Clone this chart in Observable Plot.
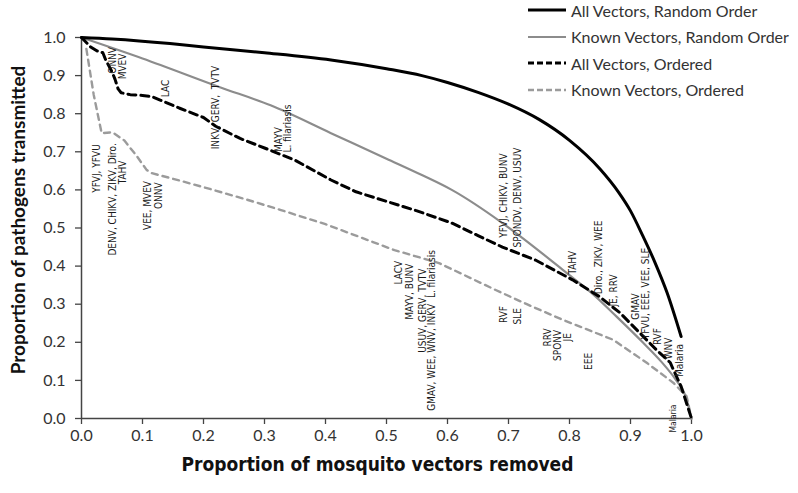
<!DOCTYPE html>
<html>
<head>
<meta charset="utf-8">
<script src="https://cdn.jsdelivr.net/npm/d3@7"></script>
<script src="https://cdn.jsdelivr.net/npm/@observablehq/plot@0.6"></script>
<style>
  html, body { margin: 0; padding: 0; background: #fff; }
  #wrap { position: relative; width: 798px; height: 493px; overflow: hidden; }
  #legend { position: absolute; left: 526px; top: -3px; font-family: Lato, "Open Sans", sans-serif; font-size: 16px; color: #333; }
  #legend .row { height: 26.5px; display: flex; align-items: center; white-space: nowrap; }
  #legend svg { margin-right: 3px; }
</style>
</head>
<body>
<div id="wrap"><div id="chart"></div><div id="legend"></div></div>
<script>
// ---------- data ----------
const xTicks = [0, 0.1, 0.2, 0.3, 0.4, 0.5, 0.6, 0.7, 0.8, 0.9, 1.0];
const yTicks = [0, 0.1, 0.2, 0.3, 0.4, 0.5, 0.6, 0.7, 0.8, 0.9, 1.0];

const seriesNames = ["All Vectors, Random Order", "Known Vectors, Random Order", "All Vectors, Ordered", "Known Vectors, Ordered"];

const allRandomX = [0, 0.05, 0.145, 0.2, 0.3, 0.409, 0.5, 0.558, 0.6, 0.65, 0.7, 0.75, 0.8, 0.85, 0.88, 0.9, 0.92, 0.94, 0.96, 0.983];
const allRandomY = [1, 0.996, 0.984, 0.975, 0.96, 0.941, 0.918, 0.9, 0.882, 0.856, 0.825, 0.785, 0.73, 0.655, 0.595, 0.545, 0.48, 0.41, 0.33, 0.215];

const knownRandomX = [0, 0.1, 0.228, 0.31, 0.409, 0.5, 0.558, 0.607, 0.69, 0.75, 0.789, 0.843, 0.871, 0.92, 0.95, 0.975, 0.99, 1.0];
const knownRandomY = [1, 0.945, 0.869, 0.822, 0.749, 0.682, 0.639, 0.6, 0.513, 0.44, 0.39, 0.32, 0.277, 0.2, 0.15, 0.1, 0.06, 0];

const allOrderedX = [0, 0.015, 0.025, 0.035, 0.04, 0.05, 0.055, 0.06, 0.065, 0.08, 0.1, 0.115, 0.13, 0.16, 0.2, 0.22, 0.26, 0.3, 0.35, 0.409, 0.45, 0.5, 0.55, 0.607, 0.65, 0.69, 0.744, 0.805, 0.849, 0.883, 0.899, 0.942, 0.965, 0.983, 1.0];
const allOrderedY = [1, 0.975, 0.965, 0.96, 0.94, 0.91, 0.89, 0.865, 0.855, 0.85, 0.848, 0.845, 0.835, 0.815, 0.79, 0.767, 0.735, 0.71, 0.678, 0.626, 0.595, 0.57, 0.545, 0.513, 0.48, 0.45, 0.416, 0.364, 0.32, 0.277, 0.251, 0.181, 0.147, 0.084, 0];

const knownOrderedX = [0.008, 0.02, 0.033, 0.051, 0.07, 0.09, 0.107, 0.115, 0.16, 0.216, 0.27, 0.327, 0.4, 0.45, 0.513, 0.586, 0.678, 0.73, 0.789, 0.871, 0.926, 0.97, 0.992, 1.0];
const knownOrderedY = [0.97, 0.85, 0.749, 0.751, 0.73, 0.69, 0.652, 0.644, 0.625, 0.6, 0.575, 0.547, 0.51, 0.48, 0.442, 0.408, 0.338, 0.3, 0.259, 0.207, 0.147, 0.094, 0.058, 0];

// pathogen annotations (one entry per text line; x, y = centre of the line in data units)
const labelText = ["ONNV", "MVEV", "LAC", "INKV, GERV,  TVTV", "MAYV", "L. filariasis",
  "YFVJ, YFVU", "DENV, CHIKV, ZIKV, Diro.", "TAHV", "VEE, MVEV", "ONNV",
  "LACV", "MAYV, BUNV", "USUV, GERV, TVTV", "GMAV, WEE, WNV, INKV  L. filariasis",
  "RVF", "SLE", "RRV", "SPONV", "JE", "EEE",
  "YFVJ, CHIKV, BUNV", "SPONDV, DENV, USUV", "TAHV", "Diro., ZIKV, WEE", "JE, RRV",
  "GMAV", "YFVU, EEE, VEE, SLE", "RVF", "WNV", "Malaria", "Malaria"];
const labelX = [0.051, 0.067, 0.138, 0.220, 0.323, 0.339,
  0.025, 0.051, 0.067, 0.108, 0.126,
  0.520, 0.539, 0.559, 0.575,
  0.692, 0.716, 0.764, 0.780, 0.798, 0.831,
  0.692, 0.716, 0.805, 0.848, 0.872,
  0.908, 0.925, 0.944, 0.962, 0.980, 0.970];
const labelY = [0.940, 0.924, 0.866, 0.816, 0.732, 0.761,
  0.656, 0.575, 0.646, 0.559, 0.585,
  0.383, 0.333, 0.283, 0.231,
  0.273, 0.268, 0.213, 0.192, 0.213, 0.150,
  0.585, 0.580, 0.409, 0.423, 0.336,
  0.294, 0.328, 0.215, 0.184, 0.152, 0.0];
const labelSmall = labelText.map((d, i) => i === labelText.length - 1);

const xTitle = "Proportion of mosquito vectors removed";
const yTitle = "Proportion of pathogens transmitted";

// ---------- build ----------
const toRows = (xs, ys) => xs.map((x, i) => ({x, y: ys[i]}));
const allRandom = toRows(allRandomX, allRandomY);
const knownRandom = toRows(knownRandomX, knownRandomY);
const allOrdered = toRows(allOrderedX, allOrderedY);
const knownOrdered = toRows(knownOrderedX, knownOrderedY);
const labels = labelText.map((t, i) => ({text: t, x: labelX[i], y: labelY[i], small: labelSmall[i]}));

const styles = [
  {stroke: "#000000", strokeWidth: 3, dash: null},
  {stroke: "#8c8c8c", strokeWidth: 2.2, dash: null},
  {stroke: "#000000", strokeWidth: 3, dash: "8,5"},
  {stroke: "#9b9b9b", strokeWidth: 2.4, dash: "6,5"}
];

const narrow = '"Liberation Sans Narrow", "DejaVu Sans Condensed", "Arial Narrow", sans-serif';
const tickFont = 'Lato, "Open Sans", sans-serif';

const chart = Plot.plot({
  width: 798,
  height: 493,
  marginLeft: 81,
  marginRight: 107,
  marginTop: 37,
  marginBottom: 75,
  style: {background: "white", fontFamily: tickFont, color: "#333"},
  x: {domain: [0, 1]},
  y: {domain: [0, 1]},
  marks: [
    Plot.axisX({ticks: xTicks, tickFormat: d3.format(".1f"), tickSize: 6, tickPadding: 5, fontSize: 16, label: null, stroke: "#444", strokeWidth: 1.3}),
    Plot.axisY({ticks: yTicks, tickFormat: d3.format(".1f"), tickSize: 6, tickPadding: 10, fontSize: 16, label: null, stroke: "#444", strokeWidth: 1.3}),
    Plot.ruleY([0], {stroke: "#444", strokeWidth: 1.5}),
    Plot.ruleX([0], {stroke: "#444", strokeWidth: 1.5}),
    Plot.line(knownOrdered, {x: "x", y: "y", stroke: styles[3].stroke, strokeWidth: styles[3].strokeWidth, strokeDasharray: styles[3].dash}),
    Plot.line(knownRandom, {x: "x", y: "y", stroke: styles[1].stroke, strokeWidth: styles[1].strokeWidth, curve: "monotone-x"}),
    Plot.line(allOrdered, {x: "x", y: "y", stroke: styles[2].stroke, strokeWidth: styles[2].strokeWidth, strokeDasharray: styles[2].dash}),
    Plot.line(allRandom, {x: "x", y: "y", stroke: styles[0].stroke, strokeWidth: styles[0].strokeWidth, curve: "monotone-x"}),
    Plot.text(labels.filter(d => !d.small), {x: "x", y: "y", text: "text", rotate: -90, fontSize: 10, fill: "#1a1a1a", fontFamily: narrow}),
    Plot.text(labels.filter(d => d.small), {x: "x", y: "y", text: "text", rotate: -90, fontSize: 8.5, fill: "#1a1a1a", fontFamily: narrow}),
    Plot.text([xTitle], {frameAnchor: "bottom", dy: 52, dx: -9, fontSize: 19, fontWeight: "bold", fill: "#111", fontFamily: narrow}),
    Plot.text([yTitle], {frameAnchor: "left", textAnchor: "middle", dx: -63, dy: -8, rotate: -90, fontSize: 19, fontWeight: "bold", fill: "#111", fontFamily: tickFont})
  ]
});
document.getElementById("chart").appendChild(chart);

// legend
const legend = d3.select("#legend");
seriesNames.forEach((name, i) => {
  const s = styles[i];
  const row = legend.append("div").attr("class", "row");
  const svg = row.append("svg").attr("width", 42).attr("height", 10);
  svg.append("line").attr("x1", 2).attr("x2", 40).attr("y1", 5).attr("y2", 5)
    .attr("stroke", s.stroke).attr("stroke-width", s.strokeWidth)
    .attr("stroke-dasharray", s.dash ? "6,3" : null);
  row.append("span").text(name);
});
</script>
</body>
</html>
